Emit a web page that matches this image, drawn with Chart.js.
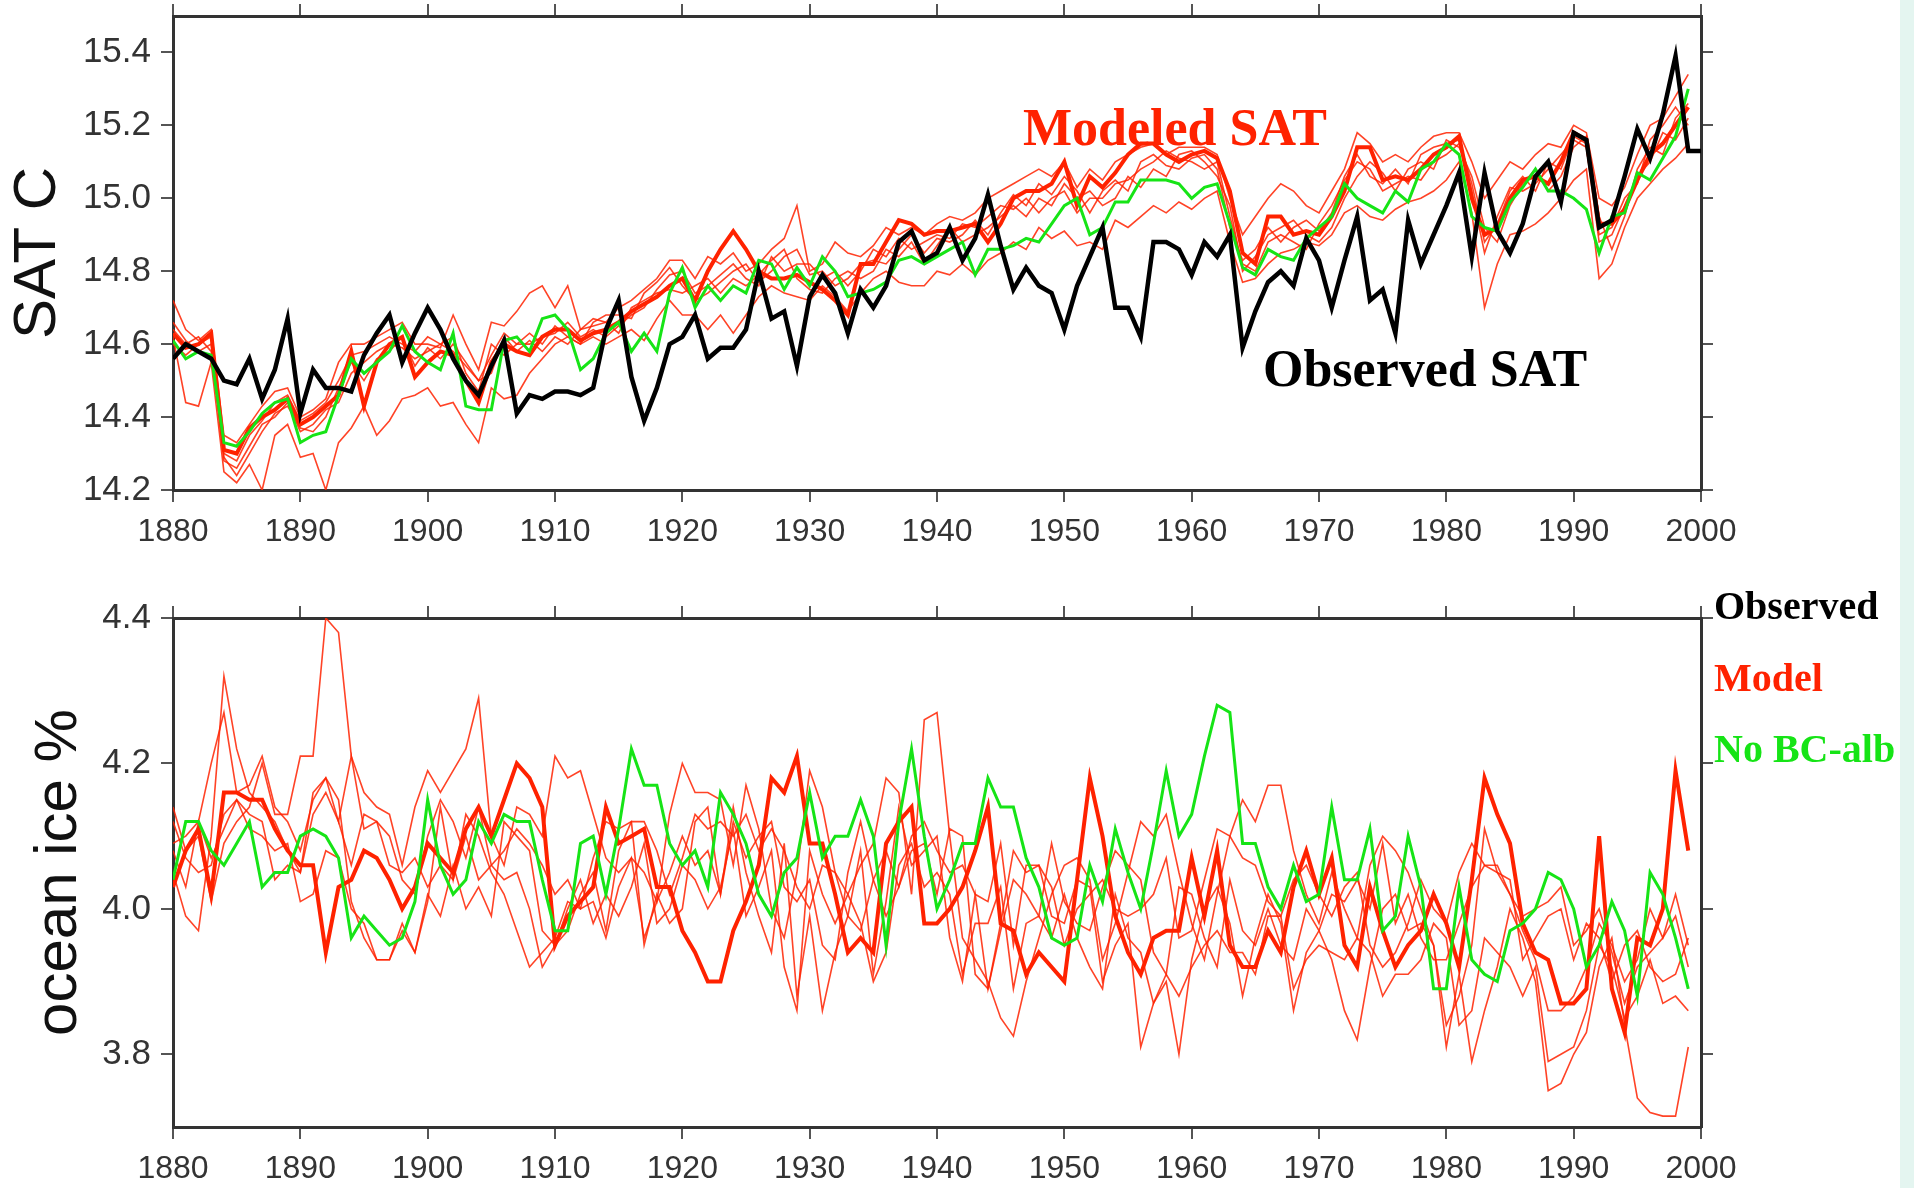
<!DOCTYPE html>
<html>
<head>
<meta charset="utf-8">
<script src="https://cdn.jsdelivr.net/npm/chart.js@4.4.1/dist/chart.umd.min.js"></script>
<style>
  html, body { margin: 0; padding: 0; background: #fff; }
  body { width: 1914px; height: 1188px; position: relative; overflow: hidden; }
  #strip { position: absolute; left: 1900px; top: 0; width: 14px; height: 1188px; background: #e4f5f0; }
  #satChart { position: absolute; left: 0; top: 0; }
  #iceChart { position: absolute; left: 0; top: 570px; }
</style>
</head>
<body>
<div id="strip"></div>
<canvas id="satChart" width="1900" height="570"></canvas>
<canvas id="iceChart" width="1900" height="618"></canvas>
<script>
var firstYear = 1880;
var satTicks = [14.2, 14.4, 14.6, 14.8, 15.0, 15.2, 15.4];
var iceTicks = [3.8, 4.0, 4.2, 4.4];

// surface air temperature, deg C (observed runs 1880-2000)
var satObserved = [
  14.56, 14.60, 14.58, 14.56, 14.50, 14.49, 14.56, 14.45, 14.53, 14.67,
  14.41, 14.53, 14.48, 14.48, 14.47, 14.57, 14.63, 14.68, 14.55, 14.63,
  14.70, 14.64, 14.56, 14.50, 14.46, 14.54, 14.61, 14.41, 14.46, 14.45,
  14.47, 14.47, 14.46, 14.48, 14.64, 14.72, 14.51, 14.39, 14.48, 14.60,
  14.62, 14.68, 14.56, 14.59, 14.59, 14.64, 14.80, 14.67, 14.69, 14.54,
  14.73, 14.79, 14.74, 14.63, 14.75, 14.70, 14.76, 14.88, 14.91, 14.83,
  14.85, 14.92, 14.83, 14.89, 15.01, 14.87, 14.75, 14.81, 14.76, 14.74,
  14.64, 14.76, 14.84, 14.92, 14.70, 14.70, 14.62, 14.88, 14.88, 14.86,
  14.79, 14.88, 14.84, 14.90, 14.59, 14.69, 14.77, 14.80, 14.76, 14.89,
  14.83, 14.70, 14.83, 14.95, 14.72, 14.75, 14.63, 14.94, 14.82, 14.90,
  14.98, 15.07, 14.84, 15.07, 14.91, 14.85, 14.93, 15.06, 15.10, 14.99,
  15.18, 15.16, 14.92, 14.94, 15.06, 15.19, 15.11, 15.23, 15.39, 15.13,
  15.13
];
var satNoBC = [
  14.61, 14.56, 14.58, 14.57, 14.33, 14.32, 14.36, 14.41, 14.44, 14.45,
  14.33, 14.35, 14.36, 14.46, 14.56, 14.52, 14.55, 14.58, 14.65, 14.58,
  14.55, 14.53, 14.63, 14.43, 14.42, 14.42, 14.61, 14.62, 14.58, 14.67,
  14.68, 14.64, 14.53, 14.56, 14.63, 14.66, 14.58, 14.63, 14.58, 14.74,
  14.81, 14.70, 14.76, 14.72, 14.76, 14.74, 14.83, 14.82, 14.75, 14.81,
  14.76, 14.84, 14.80, 14.73, 14.74, 14.75, 14.77, 14.83, 14.84, 14.82,
  14.84, 14.86, 14.88, 14.79, 14.86, 14.86, 14.87, 14.89, 14.88, 14.93,
  14.98, 15.00, 14.90, 14.92, 14.99, 14.99, 15.05, 15.05, 15.05, 15.04,
  15.00, 15.03, 15.04, 14.93, 14.81, 14.79, 14.86, 14.84, 14.83, 14.89,
  14.92, 14.95, 15.04, 15.00, 14.98, 14.96, 15.02, 14.99, 15.08, 15.10,
  15.15, 15.12, 14.95, 14.92, 14.91, 14.99, 15.03, 15.08, 15.02, 15.02,
  15.00, 14.97, 14.85, 14.95, 14.96, 15.07, 15.05, 15.11, 15.17, 15.30
];
var satModelMain = [
  14.63, 14.59, 14.60, 14.63, 14.31, 14.30, 14.37, 14.40, 14.42, 14.45,
  14.38, 14.40, 14.43, 14.46, 14.58, 14.43, 14.55, 14.60, 14.62, 14.51,
  14.55, 14.58, 14.57, 14.50, 14.44, 14.55, 14.60, 14.58, 14.57, 14.62,
  14.64, 14.64, 14.61, 14.63, 14.64, 14.66, 14.69, 14.71, 14.73, 14.76,
  14.78, 14.72, 14.80, 14.86, 14.91, 14.86, 14.80, 14.78, 14.78, 14.79,
  14.77, 14.75, 14.72, 14.68, 14.82, 14.82, 14.88, 14.94, 14.93, 14.90,
  14.91, 14.91, 14.92, 14.93, 14.88, 14.93, 15.00, 15.02, 15.02, 15.04,
  15.10, 14.98, 15.06, 15.03, 15.07, 15.12, 15.15, 15.15, 15.12, 15.10,
  15.12, 15.13, 15.11, 15.02, 14.85, 14.82, 14.95, 14.95, 14.90, 14.91,
  14.90, 14.95, 15.02, 15.14, 15.14, 15.05, 15.06, 15.05, 15.08, 15.12,
  15.14, 15.17, 15.00, 14.90, 14.92, 15.00, 15.05, 15.06, 15.04, 15.10,
  15.18, 15.16, 14.93, 14.93, 14.97, 15.05, 15.12, 15.15, 15.20, 15.25
];
var satModelA = [
  14.72, 14.64, 14.61, 14.64, 14.35, 14.33, 14.38, 14.43, 14.47, 14.48,
  14.40, 14.42, 14.45, 14.55, 14.60, 14.60, 14.62, 14.64, 14.66, 14.60,
  14.60, 14.59, 14.68, 14.60, 14.53, 14.66, 14.65, 14.69, 14.74, 14.76,
  14.70, 14.76, 14.64, 14.67, 14.66, 14.70, 14.72, 14.75, 14.78, 14.83,
  14.83, 14.78, 14.84, 14.82, 14.85, 14.80, 14.82, 14.86, 14.89, 14.98,
  14.80, 14.82, 14.88, 14.85, 14.84, 14.87, 14.92, 14.90, 14.92, 14.90,
  14.93, 14.95, 14.94, 14.96, 15.00, 15.02, 15.04, 15.06, 15.08, 15.06,
  15.10, 15.03, 15.08, 15.05, 15.10, 15.12, 15.14, 15.15, 15.12, 15.14,
  15.14, 15.14, 15.12, 15.00, 14.90, 14.95, 15.00, 15.04, 15.02, 14.98,
  14.96, 15.02, 15.08, 15.18, 15.15, 15.10, 15.12, 15.10, 15.14, 15.17,
  15.18, 15.18, 15.10, 15.00, 15.05, 15.10, 15.08, 15.12, 15.15, 15.14,
  15.20, 15.18, 15.00, 14.98, 15.03, 15.12, 15.20, 15.22, 15.28, 15.34
];
var satModelB = [
  14.62, 14.44, 14.43, 14.55, 14.25, 14.22, 14.27, 14.20, 14.35, 14.38,
  14.29, 14.30, 14.20, 14.33, 14.37, 14.43, 14.35, 14.39, 14.45, 14.46,
  14.48, 14.43, 14.44, 14.38, 14.33, 14.48, 14.45, 14.46, 14.52, 14.56,
  14.60, 14.62, 14.60, 14.62, 14.60, 14.62, 14.64, 14.61, 14.67, 14.72,
  14.68, 14.68, 14.64, 14.68, 14.63, 14.68, 14.73, 14.76, 14.74, 14.73,
  14.72, 14.76, 14.73, 14.69, 14.74, 14.78, 14.80, 14.77, 14.76, 14.76,
  14.80, 14.79, 14.82, 14.79, 14.83, 14.85, 14.88, 14.86, 14.92, 14.89,
  14.91, 14.87, 14.88, 14.86, 14.94, 14.92, 14.95, 14.98, 14.96, 14.99,
  14.97, 15.00, 15.02, 14.88, 14.77, 14.78, 14.82, 14.85, 14.86, 14.88,
  14.87, 14.90, 14.96, 14.98, 14.95, 14.94, 14.97, 14.99, 15.00, 15.02,
  15.05, 15.10, 14.96, 14.70, 14.82, 14.90, 14.91, 14.93, 14.96, 15.00,
  15.05, 15.08, 14.78, 14.82, 14.92, 15.00, 15.04, 15.08, 15.11, 15.15
];
var satModelC = [
  14.66, 14.61, 14.58, 14.60, 14.28, 14.26, 14.32, 14.38, 14.40, 14.44,
  14.36, 14.38, 14.42, 14.44, 14.52, 14.55, 14.58, 14.60, 14.59, 14.56,
  14.58, 14.60, 14.62, 14.52, 14.47, 14.60, 14.57, 14.60, 14.60, 14.62,
  14.63, 14.66, 14.62, 14.64, 14.62, 14.65, 14.68, 14.70, 14.75, 14.79,
  14.80, 14.74, 14.76, 14.79, 14.82, 14.78, 14.76, 14.84, 14.80, 14.82,
  14.82, 14.78, 14.80, 14.76, 14.80, 14.86, 14.84, 14.89, 14.86, 14.88,
  14.90, 14.89, 14.93, 14.92, 14.95, 14.98, 14.97, 15.00, 14.96, 15.00,
  15.02, 14.96, 15.00, 15.00, 15.04, 15.05, 15.08, 15.10, 15.13, 15.11,
  15.10, 15.08, 15.10, 14.95, 14.82, 14.80, 14.88, 14.90, 14.88, 14.86,
  14.93, 14.98, 15.05, 15.10, 15.08, 15.02, 15.04, 15.06, 15.05, 15.10,
  15.12, 15.15, 15.02, 14.85, 14.95, 15.03, 15.02, 15.04, 15.08, 15.12,
  15.16, 15.14, 14.88, 14.90, 14.98, 15.06, 15.10, 15.18, 15.16, 15.22
];
var satModelD = [
  14.60, 14.57, 14.60, 14.62, 14.29, 14.24, 14.30, 14.36, 14.41, 14.43,
  14.37, 14.36, 14.40, 14.48, 14.55, 14.50, 14.56, 14.58, 14.62, 14.54,
  14.59, 14.56, 14.60, 14.55, 14.50, 14.52, 14.62, 14.58, 14.61, 14.58,
  14.62, 14.60, 14.64, 14.65, 14.66, 14.63, 14.70, 14.72, 14.74, 14.75,
  14.74, 14.76, 14.78, 14.74, 14.78, 14.76, 14.79, 14.83, 14.86, 14.78,
  14.75, 14.74, 14.78, 14.80, 14.78, 14.80, 14.86, 14.84, 14.88, 14.82,
  14.87, 14.92, 14.88, 14.90, 14.92, 14.95, 14.98, 14.95, 15.00, 14.98,
  15.04, 15.00, 15.02, 14.98, 15.00, 15.06, 15.03, 15.08, 15.06, 15.12,
  15.13, 15.10, 15.06, 14.98, 14.80, 14.84, 14.90, 14.92, 14.94, 14.90,
  14.88, 14.92, 15.00, 15.06, 15.10, 15.07, 15.02, 15.08, 15.10, 15.08,
  15.16, 15.14, 15.06, 14.92, 14.88, 14.98, 15.04, 15.08, 15.02, 15.06,
  15.14, 15.17, 14.95, 14.86, 14.95, 15.08, 15.14, 15.12, 15.22, 15.26
];
var satModelE = [
  14.64, 14.60, 14.62, 14.58, 14.30, 14.28, 14.35, 14.39, 14.44, 14.46,
  14.39, 14.41, 14.44, 14.50, 14.57, 14.58, 14.60, 14.62, 14.60, 14.58,
  14.62, 14.60, 14.58, 14.54, 14.50, 14.57, 14.63, 14.60, 14.63, 14.60,
  14.65, 14.62, 14.60, 14.66, 14.68, 14.68, 14.67, 14.74, 14.77, 14.81,
  14.76, 14.72, 14.74, 14.77, 14.80, 14.82, 14.77, 14.80, 14.84, 14.86,
  14.79, 14.80, 14.76, 14.78, 14.82, 14.83, 14.82, 14.86, 14.90, 14.85,
  14.89, 14.88, 14.90, 14.94, 14.90, 14.96, 15.01, 14.98, 15.04, 15.01,
  15.06, 15.02, 14.96, 15.02, 15.05, 15.02, 15.10, 15.12, 15.09, 15.08,
  15.11, 15.12, 15.08, 14.92, 14.83, 14.86, 14.92, 14.88, 14.92, 14.94,
  14.91, 14.96, 15.06, 15.12, 15.06, 15.04, 15.08, 15.04, 15.12, 15.14,
  15.15, 15.16, 15.04, 14.88, 14.93, 15.02, 15.06, 15.02, 15.10, 15.08,
  15.17, 15.15, 14.90, 14.92, 15.00, 15.04, 15.16, 15.20, 15.25, 15.20
];

// ocean ice cover, percent, 1880-1999
var iceNoBC = [
  4.04, 4.12, 4.12, 4.08, 4.06, 4.09, 4.12, 4.03, 4.05, 4.05,
  4.10, 4.11, 4.10, 4.07, 3.96, 3.99, 3.97, 3.95, 3.96, 4.01,
  4.15, 4.06, 4.02, 4.04, 4.12, 4.09, 4.13, 4.12, 4.12, 4.04,
  3.97, 3.97, 4.09, 4.10, 4.02, 4.11, 4.22, 4.17, 4.17, 4.09,
  4.06, 4.08, 4.03, 4.16, 4.13, 4.09, 4.02, 3.99, 4.05, 4.07,
  4.16, 4.07, 4.10, 4.10, 4.15, 4.10, 3.95, 4.12, 4.22, 4.10,
  4.00, 4.04, 4.09, 4.09, 4.18, 4.14, 4.14, 4.07, 4.03, 3.96,
  3.95, 3.96, 4.06, 4.01, 4.11, 4.05, 4.00, 4.09, 4.19, 4.10,
  4.13, 4.21, 4.28, 4.27, 4.09, 4.09, 4.03, 4.00, 4.06, 4.01,
  4.02, 4.14, 4.04, 4.04, 4.11, 3.97, 3.99, 4.10, 4.03, 3.89,
  3.89, 4.03, 3.93, 3.91, 3.90, 3.97, 3.98, 4.00, 4.05, 4.04,
  4.00, 3.92, 3.95, 4.01, 3.97, 3.88, 4.05, 4.02, 3.96, 3.89
];
var iceModelMain = [
  4.03, 4.08, 4.11, 4.02, 4.16, 4.16, 4.15, 4.15, 4.11, 4.08,
  4.06, 4.06, 3.94, 4.03, 4.04, 4.08, 4.07, 4.04, 4.00, 4.03,
  4.09, 4.07, 4.05, 4.11, 4.14, 4.10, 4.15, 4.20, 4.18, 4.14,
  3.95, 3.99, 4.01, 4.03, 4.14, 4.09, 4.10, 4.11, 4.03, 4.03,
  3.97, 3.94, 3.90, 3.90, 3.97, 4.01, 4.06, 4.18, 4.16, 4.21,
  4.09, 4.09, 4.02, 3.94, 3.96, 3.94, 4.09, 4.12, 4.14, 3.98,
  3.98, 4.00, 4.03, 4.08, 4.14, 3.98, 3.97, 3.91, 3.94, 3.92,
  3.90, 4.04, 4.18, 4.10, 3.99, 3.94, 3.91, 3.96, 3.97, 3.97,
  4.07, 3.99, 4.08, 3.95, 3.92, 3.92, 3.97, 3.94, 4.03, 4.08,
  4.02, 4.07, 3.95, 3.92, 4.03, 3.97, 3.92, 3.95, 3.97, 4.02,
  3.98, 3.92, 4.04, 4.18, 4.13, 4.09, 3.98, 3.94, 3.93, 3.87,
  3.87, 3.89, 4.10, 3.89, 3.83, 3.96, 3.95, 4.00, 4.19, 4.08
];
var iceModelA = [
  4.14, 4.08, 4.10, 4.01, 4.09, 4.12, 4.14, 4.20, 4.13, 4.13,
  4.21, 4.21, 4.40, 4.38, 4.21, 4.16, 4.14, 4.13, 4.06, 4.14,
  4.19, 4.16, 4.19, 4.22, 4.29, 4.10, 4.06, 4.14, 4.13, 4.10,
  4.21, 4.18, 4.19, 4.13, 4.07, 4.05, 4.07, 4.05, 4.01, 4.13,
  4.20, 4.16, 4.16, 4.15, 4.06, 4.17, 4.11, 4.00, 3.96, 4.05,
  4.19, 4.14, 4.05, 4.02, 4.06, 4.09, 4.18, 4.16, 4.02, 4.26,
  4.27, 4.10, 3.96, 3.93, 3.90, 3.85, 3.825, 3.90, 3.96, 4.02,
  4.06, 4.07, 4.04, 3.93, 3.98, 4.05, 4.12, 4.10, 4.13, 4.05,
  3.98, 3.93, 4.02, 4.10, 4.15, 4.12, 4.17, 4.17, 4.08, 4.02,
  3.98, 4.05, 4.00, 3.96, 4.06, 4.10, 4.08, 4.05, 4.00, 3.95,
  3.84, 3.88, 3.95, 4.11, 4.05, 4.02, 3.97, 3.93, 3.86, 3.86,
  3.88, 3.92, 3.98, 3.95, 3.90, 3.93, 4.00, 3.96, 4.02, 3.95
];
var iceModelB = [
  4.05, 3.99, 3.97, 4.10, 4.32, 4.22, 4.16, 4.14, 4.12, 4.08,
  4.05, 4.16, 4.18, 4.15, 4.01, 3.96, 3.93, 3.93, 3.97, 3.94,
  4.01, 4.14, 4.04, 4.13, 4.10, 4.05, 4.02, 3.97, 3.92, 3.94,
  3.96, 4.01, 4.00, 4.07, 4.12, 4.11, 4.12, 3.95, 4.02, 3.98,
  4.00, 4.12, 4.14, 4.02, 4.14, 4.05, 3.99, 3.94, 4.09, 3.88,
  3.99, 3.86, 3.94, 3.99, 4.08, 3.91, 4.01, 4.14, 4.06, 4.08,
  4.10, 3.96, 3.90, 4.02, 3.89, 3.98, 4.08, 4.05, 4.06, 3.99,
  3.98, 4.04, 4.03, 3.90, 3.95, 3.98, 3.81, 3.87, 3.90, 3.80,
  3.93, 4.00, 4.03, 3.98, 3.88, 3.96, 4.02, 3.98, 3.86, 3.94,
  3.97, 3.93, 3.86, 3.82, 3.92, 4.00, 4.02, 3.97, 3.98, 3.95,
  3.81, 3.91, 3.79, 3.86, 3.92, 4.00, 3.96, 3.90, 3.75, 3.76,
  3.80, 3.83, 3.92, 3.96, 3.84, 3.74, 3.72, 3.715, 3.715, 3.81
];
var iceModelC = [
  4.09, 4.10, 4.12, 4.20, 4.27, 4.16, 4.17, 4.21, 4.14, 4.12,
  4.08, 4.15, 4.18, 4.12, 4.21, 4.11, 4.12, 4.10, 4.04, 4.02,
  4.10, 4.15, 4.12, 4.07, 4.14, 4.06, 4.04, 4.05, 4.00, 3.92,
  3.95, 3.97, 4.02, 4.05, 3.97, 4.08, 4.12, 4.12, 4.08, 4.02,
  4.07, 4.13, 4.11, 4.12, 4.10, 4.13, 4.08, 4.11, 4.08, 4.03,
  4.00, 4.06, 4.05, 3.99, 3.97, 4.04, 4.08, 4.03, 4.10, 4.12,
  4.08, 4.05, 4.06, 4.02, 4.01, 4.09, 3.95, 4.06, 4.06, 4.03,
  3.95, 4.00, 4.02, 4.04, 4.00, 3.99, 4.00, 4.02, 4.07, 3.96,
  3.97, 4.04, 4.11, 4.10, 4.07, 4.06, 4.01, 3.99, 4.04, 4.06,
  4.02, 3.99, 4.03, 4.05, 3.95, 3.92, 3.94, 3.98, 4.04, 4.00,
  3.98, 4.05, 4.09, 4.06, 4.06, 4.02, 3.99, 4.00, 4.01, 4.03,
  3.95, 3.97, 4.00, 3.94, 3.87, 3.92, 3.94, 3.96, 3.99, 3.92
];
var iceModelD = [
  4.08, 4.03, 4.12, 4.07, 4.11, 4.15, 4.13, 4.12, 4.04, 4.06,
  4.05, 4.13, 4.16, 4.12, 4.06, 4.13, 4.12, 4.06, 4.05, 4.07,
  4.03, 4.06, 4.04, 4.10, 4.04, 4.06, 4.08, 4.11, 4.09, 4.06,
  4.02, 4.04, 4.00, 4.01, 3.96, 4.03, 4.07, 3.96, 4.01, 4.05,
  4.10, 4.06, 4.08, 4.02, 4.12, 4.07, 4.10, 4.12, 4.03, 4.01,
  4.04, 3.95, 3.93, 4.05, 4.12, 4.04, 3.99, 4.03, 4.08, 4.09,
  4.02, 4.11, 4.10, 3.91, 3.89, 3.97, 4.04, 4.02, 3.99, 4.09,
  4.01, 3.98, 3.97, 4.03, 4.08, 4.06, 4.04, 3.94, 3.91, 4.03,
  4.02, 3.96, 3.92, 4.04, 3.97, 3.95, 4.00, 3.95, 3.93, 4.00,
  3.97, 4.02, 4.01, 4.04, 4.00, 4.09, 3.98, 4.02, 3.96, 3.93,
  3.93, 3.98, 4.03, 4.06, 4.05, 4.04, 3.93, 3.96, 3.99, 4.00,
  3.93, 3.98, 3.96, 3.90, 3.95, 3.97, 3.92, 3.90, 3.91, 3.96
];
var iceModelE = [
  4.12, 4.07, 4.05, 4.06, 4.13, 4.15, 4.11, 4.10, 4.08, 4.09,
  4.01, 4.02, 4.08, 4.07, 4.00, 3.98, 3.93, 3.93, 3.98, 3.94,
  4.02, 3.99, 4.06, 4.00, 4.03, 3.99, 4.12, 4.10, 4.08, 3.97,
  3.95, 4.00, 4.04, 3.98, 4.02, 3.99, 4.03, 4.09, 3.98, 4.00,
  4.06, 4.04, 4.00, 4.03, 4.11, 3.99, 4.03, 4.08, 3.92, 3.86,
  4.08, 4.02, 3.98, 4.02, 3.98, 3.90, 3.94, 4.06, 4.09, 4.03,
  4.05, 4.02, 3.91, 3.98, 3.98, 4.03, 3.89, 3.98, 3.99, 3.96,
  4.02, 3.96, 3.92, 3.89, 4.02, 3.96, 3.94, 3.87, 3.91, 3.88,
  3.92, 3.95, 3.97, 3.94, 3.94, 3.91, 3.99, 3.99, 3.89, 3.93,
  3.95, 3.94, 3.93, 3.96, 3.94, 3.88, 3.91, 3.91, 3.93, 3.98,
  3.96, 3.84, 3.86, 3.96, 3.94, 3.92, 3.88, 3.92, 3.79, 3.80,
  3.81, 3.86, 3.95, 3.92, 3.85, 3.88, 3.93, 3.87, 3.88, 3.86
];

var RED = '#ff2200';
var THIN_RED = 'rgba(255, 34, 0, 0.85)';
var GREEN = '#16e416';
var sansFamily = '"Liberation Sans", Arial, Helvetica, sans-serif';
var xTickFont = { family: sansFamily, size: 32 };
var yTickFont = { family: sansFamily, size: 35 };

function points(values) {
    return values.map(function (v, i) { return { x: firstYear + i, y: v }; });
}

function line(values, color, width) {
    return {
        data: points(values),
        borderColor: color,
        borderWidth: width,
        pointRadius: 0,
        tension: 0,
        fill: false
    };
}

// pin the axis boxes so the plot frame lands where the figure has it
function fixBox(w, h) {
    return function (scale) {
        if (w !== null) scale.width = w;
        if (h !== null) scale.height = h;
        scale.paddingLeft = 0; scale.paddingRight = 0;
        scale.paddingTop = 0; scale.paddingBottom = 0;
    };
}

function frameScales(cfg) {
    var frame = { display: true, color: '#333', width: 3 };
    var marks = { drawOnChartArea: false, drawTicks: true, tickLength: 12, color: '#555', lineWidth: 2 };
    var setTicks = function (scale) {
        scale.ticks = cfg.ticks.map(function (v) { return { value: v }; });
    };
    return {
        x: {
            type: 'linear', position: 'bottom', min: 1880, max: 2000,
            ticks: { stepSize: 10, font: xTickFont, color: '#333', padding: 11, maxRotation: 0, autoSkip: false,
                     callback: function (v) { return String(v); } },
            grid: marks, border: frame, afterFit: fixBox(null, cfg.bottomH)
        },
        xTop: {
            type: 'linear', position: 'top', min: 1880, max: 2000,
            ticks: { stepSize: 10, display: false },
            grid: marks, border: frame, afterFit: fixBox(null, cfg.topH)
        },
        y: {
            type: 'linear', position: 'left', min: cfg.min, max: cfg.max,
            afterBuildTicks: setTicks,
            ticks: { font: yTickFont, color: '#333', padding: 10,
                     callback: function (v) { return v.toFixed(1); } },
            title: { display: true, text: cfg.title, color: '#111',
                     font: { family: sansFamily, size: 60 },
                     padding: { top: cfg.titlePad, bottom: 0 } },
            grid: marks, border: frame, afterFit: fixBox(173, null)
        },
        yRight: {
            type: 'linear', position: 'right', min: cfg.min, max: cfg.max,
            afterBuildTicks: setTicks,
            ticks: { display: false },
            grid: marks, border: frame, afterFit: fixBox(199, null)
        }
    };
}

function textLayer(items) {
    return {
        id: 'textLayer',
        afterDraw: function (chart) {
            var ctx = chart.ctx;
            ctx.save();
            ctx.textBaseline = 'alphabetic';
            ctx.textAlign = 'left';
            items.forEach(function (t) {
                ctx.font = t.font;
                ctx.fillStyle = t.color;
                ctx.fillText(t.text, t.x, t.y);
            });
            ctx.restore();
        }
    };
}

var commonOptions = {
    responsive: false,
    animation: false,
    events: [],
    plugins: { legend: { display: false }, tooltip: { enabled: false } }
};

var big = 'bold 52px "Liberation Serif", "Times New Roman", serif';
var small = 'bold 40px "Liberation Serif", "Times New Roman", serif';

new Chart(document.getElementById('satChart'), {
    type: 'line',
    data: {
        datasets: [
            line(satObserved, '#000', 4.5),
            line(satNoBC, GREEN, 3),
            line(satModelMain, RED, 4),
            line(satModelA, THIN_RED, 1.6),
            line(satModelB, THIN_RED, 1.6),
            line(satModelC, THIN_RED, 1.6),
            line(satModelD, THIN_RED, 1.6),
            line(satModelE, THIN_RED, 1.6)
        ]
    },
    options: Object.assign({}, commonOptions, {
        scales: frameScales({ min: 14.2, max: 15.5, ticks: satTicks, title: 'SAT C',
                              titlePad: 2, topH: 16, bottomH: 80 })
    }),
    plugins: [textLayer([
        { text: 'Modeled SAT', x: 1023, y: 145, font: big, color: RED },
        { text: 'Observed SAT', x: 1263, y: 386, font: big, color: '#000' }
    ])]
});

// the ice canvas starts at y=570, so its frame top (y=618) sits 48px down
new Chart(document.getElementById('iceChart'), {
    type: 'line',
    data: {
        datasets: [
            line(iceNoBC, GREEN, 3),
            line(iceModelMain, RED, 4),
            line(iceModelA, THIN_RED, 1.6),
            line(iceModelB, THIN_RED, 1.6),
            line(iceModelC, THIN_RED, 1.6),
            line(iceModelD, THIN_RED, 1.6),
            line(iceModelE, THIN_RED, 1.6)
        ]
    },
    options: Object.assign({}, commonOptions, {
        scales: frameScales({ min: 3.7, max: 4.4, ticks: iceTicks, title: 'ocean ice %',
                              titlePad: 23, topH: 48, bottomH: 61 })
    }),
    plugins: [textLayer([
        { text: 'Observed', x: 1714, y: 49, font: small, color: '#000' },
        { text: 'Model', x: 1714, y: 121, font: small, color: RED },
        { text: 'No BC-alb', x: 1714, y: 192, font: small, color: GREEN }
    ])]
});
</script>
</body>
</html>
